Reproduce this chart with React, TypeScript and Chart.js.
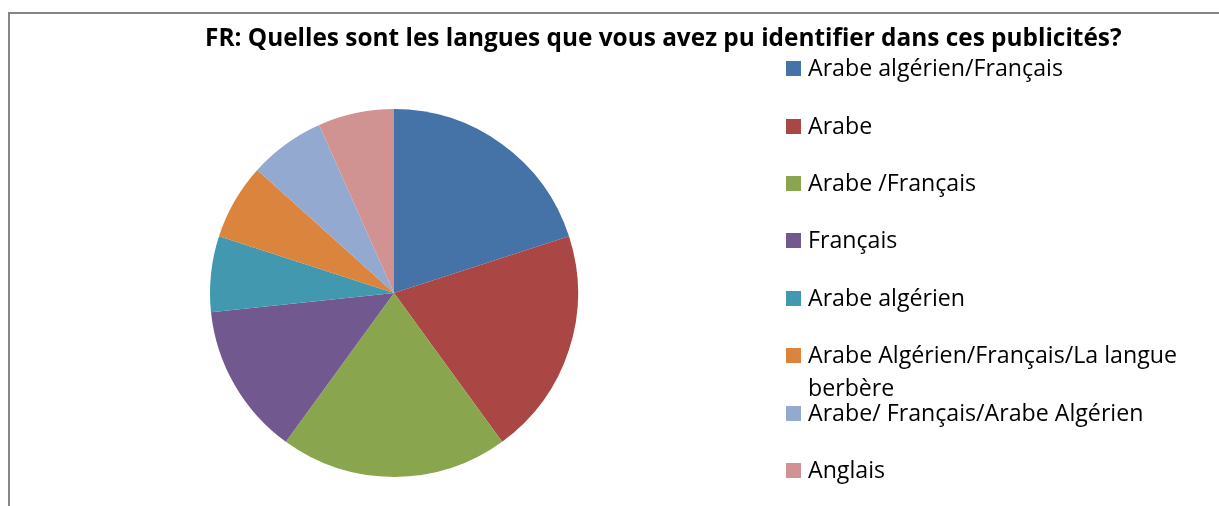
import React, { useEffect, useRef } from "react";
import { Chart, registerables } from "chart.js";

Chart.register(...registerables);

const TITLE = "FR: Quelles sont les langues que vous avez pu identifier dans ces publicités?";
const CATEGORIES = [
  "Arabe algérien/Français",
  "Arabe",
  "Arabe /Français",
  "Français",
  "Arabe algérien",
  "Arabe Algérien/Français/La langue berbère",
  "Arabe/ Français/Arabe Algérien",
  "Anglais",
];
const LEGEND_LINES = [
  ["Arabe algérien/Français"],
  ["Arabe"],
  ["Arabe /Français"],
  ["Français"],
  ["Arabe algérien"],
  ["Arabe Algérien/Français/La langue", "berbère"],
  ["Arabe/ Français/Arabe Algérien"],
  ["Anglais"],
];
const VALUES = [3, 3, 3, 2, 1, 1, 1, 1];
const COLORS = [
  "#4572A7",
  "#AA4643",
  "#89A54E",
  "#71588F",
  "#4198AF",
  "#DB843D",
  "#93A9CF",
  "#D19392",
];

const FONT = "'Open Sans', 'DejaVu Sans', sans-serif";

const decorPlugin = {
  id: "decor",
  afterDraw(chart: any) {
    const ctx = chart.ctx as CanvasRenderingContext2D;
    ctx.save();
    // frame
    ctx.strokeStyle = "#868686";
    ctx.lineWidth = 2;
    ctx.beginPath();
    ctx.moveTo(9, 506);
    ctx.lineTo(9, 13);
    ctx.lineTo(1219, 13);
    ctx.stroke();

    // title
    const tSize = 22;
    ctx.font = `bold ${tSize}px ${FONT}`;
    const tw = ctx.measureText(TITLE).width;
    const tScale = 917 / tw;
    ctx.font = `bold ${(tSize * tScale).toFixed(2)}px ${FONT}`;
    ctx.fillStyle = "#000";
    ctx.textBaseline = "alphabetic";
    ctx.textAlign = "left";
    ctx.fillText(TITLE, 205, 46);

    // legend
    const lSize = 20;
    ctx.font = `${lSize}px ${FONT}`;
    const lw = ctx.measureText(LEGEND_LINES[0][0]).width;
    const lFont = (lSize * 255) / lw;
    ctx.font = `${lFont.toFixed(2)}px ${FONT}`;
    ctx.textBaseline = "middle";
    const rowsY = [68, 126, 183, 240, 298, 355, 413, 470];
    const labels = chart.data.labels as string[];
    labels.forEach((_, i) => {
      const y = rowsY[i];
      ctx.fillStyle = COLORS[i];
      ctx.fillRect(786, y - 7, 15, 15);
      ctx.fillStyle = "#000";
      LEGEND_LINES[i].forEach((line, j) => {
        ctx.fillText(line, 808, y + 1 + j * 33);
      });
    });
    ctx.restore();
  },
};

export default function App() {
  const ref = useRef<HTMLCanvasElement>(null);
  useEffect(() => {
    document.body.style.margin = "0";
    const chart = new Chart(ref.current!, {
      type: "pie",
      data: {
        labels: CATEGORIES,
        datasets: [
          {
            data: VALUES,
            backgroundColor: COLORS,
            borderWidth: 0,
          },
        ],
      },
      options: {
        animation: false,
        responsive: false,
        maintainAspectRatio: false,
        layout: { padding: { left: 210, right: 641, top: 109, bottom: 29 } },
        plugins: {
          legend: { display: false },
          title: { display: false },
          tooltip: { enabled: false },
        },
      },
      plugins: [decorPlugin],
    });
    return () => chart.destroy();
  }, []);
  return (
    <div style={{ width: 1219, height: 506, background: "#fff" }}>
      <canvas ref={ref} width={1219} height={506} style={{ display: "block" }} />
    </div>
  );
}
